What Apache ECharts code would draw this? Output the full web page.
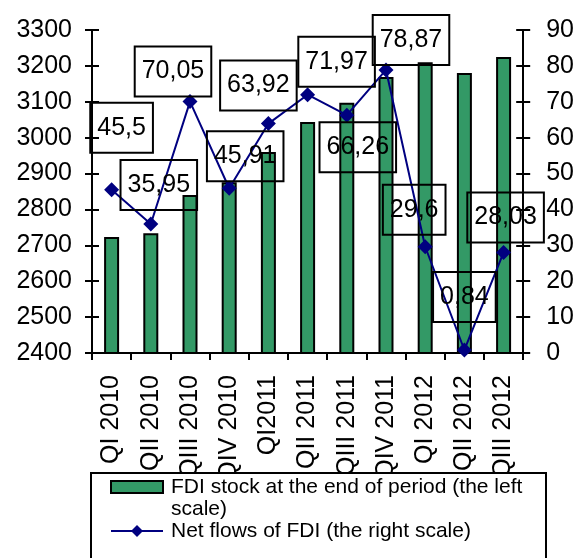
<!DOCTYPE html>
<html>
<head>
<meta charset="utf-8">
<style>
  html, body { margin: 0; padding: 0; background: #fff; }
  #chart { width: 577px; height: 558px; }
</style>
<script src="https://cdn.jsdelivr.net/npm/echarts@6/dist/echarts.min.js"></script>
</head>
<body>
<div id="chart"></div>
<script>
// Quarterly periods
const categories = ['QI 2010', 'QII 2010', 'QIII 2010', 'QIV 2010', 'QI2011', 'QII 2011',
                    'QIII 2011', 'QIV 2011', 'QI 2012', 'QII 2012', 'QIII 2012'];
// FDI stock at the end of period (left scale)
const fdiStock = [2723, 2734, 2840, 2876, 2960, 3044, 3097, 3169, 3210, 3180, 3225];
// Net flows of FDI (right scale)
const netFlows = [45.5, 35.95, 70.05, 45.91, 63.92, 71.97, 66.26, 78.87, 29.6, 0.84, 28.03];
// Axis ranges
const leftAxis = { min: 2400, max: 3300, step: 100 };
const rightAxis = { min: 0, max: 90, step: 10 };

const barName = 'FDI stock at the end of period (the left\nscale)';
const lineName = 'Net flows of FDI (the right scale)';

// Pixel offsets of the value boxes relative to each point
const labelOffsets = [[10, -62], [8, -39], [-17, -30], [16, -32], [-10, -38], [29, -33],
                      [11, 32], [25, -30], [-11, -37], [0, -53], [2, -35]];

const FONT = 'Liberation Sans, Arial, sans-serif';
const tickStyle = { color: '#000', width: 2 };

const chart = echarts.init(document.getElementById('chart'), null, { renderer: 'canvas' });

const lineData = netFlows.map((v, i) => ({
  value: v,
  label: { offset: labelOffsets[i] }
}));

// Value axis; the "inner" copies only add the inward half of the crossing ticks
function valueAxis(range, position, inner) {
  return {
    type: 'value',
    position: position,
    min: range.min,
    max: range.max,
    interval: range.step,
    axisLine: { show: !inner, lineStyle: { color: '#000', width: 2 } },
    axisTick: { show: true, inside: inner, length: 7, lineStyle: tickStyle },
    axisLabel: inner ? { show: false } : {
      margin: position === 'left' ? 20 : 23,
      fontSize: 25, color: '#000', fontFamily: FONT,
      formatter: v => String(v)
    },
    splitLine: { show: false }
  };
}

function categoryAxis(inner) {
  return {
    type: 'category',
    data: categories,
    boundaryGap: true,
    axisLine: { show: !inner, lineStyle: { color: '#000', width: 2 } },
    axisTick: { show: true, inside: inner, length: 7, lineStyle: tickStyle },
    axisLabel: inner ? { show: false } :
      { rotate: 90, margin: 22, fontSize: 25, color: '#000', fontFamily: FONT, interval: 0 },
    splitLine: { show: false }
  };
}

chart.setOption({
  animation: false,
  backgroundColor: '#ffffff',
  textStyle: { fontFamily: FONT },
  grid: { left: 92, right: 46, top: 30, bottom: 205, containLabel: false },
  graphic: [{
    type: 'rect',
    z: 50,
    shape: { x: 91, y: 473, width: 455, height: 120 },
    style: { fill: '#ffffff', stroke: '#000000', lineWidth: 2 }
  }],
  legend: [{
    data: [barName],
    orient: 'vertical',
    left: 110,
    top: 454,
    padding: 0,
    z: 60,
    itemWidth: 52,
    itemHeight: 12,
    icon: 'rect',
    formatter: name => '\n' + name,
    textStyle: { fontFamily: FONT, fontSize: 21, lineHeight: 22, color: '#000', padding: [0, 0, 0, 3] }
  }, {
    data: [lineName],
    orient: 'vertical',
    left: 110,
    top: 520,
    padding: 0,
    z: 60,
    itemWidth: 52,
    itemHeight: 15,
    textStyle: { fontFamily: FONT, fontSize: 21, lineHeight: 22, color: '#000', padding: [0, 0, 0, 3] }
  }],
  xAxis: [categoryAxis(false), categoryAxis(true)],
  yAxis: [
    valueAxis(leftAxis, 'left', false),
    valueAxis(rightAxis, 'right', false),
    valueAxis(leftAxis, 'left', true),
    valueAxis(rightAxis, 'right', true)
  ],
  series: [{
    name: barName,
    type: 'bar',
    xAxisIndex: 0,
    yAxisIndex: 0,
    data: fdiStock,
    barWidth: 15,
    itemStyle: { color: '#339966', borderColor: '#000', borderWidth: 2 }
  }, {
    name: lineName,
    type: 'line',
    xAxisIndex: 0,
    yAxisIndex: 1,
    data: lineData,
    symbol: 'diamond',
    symbolSize: 15,
    itemStyle: { color: '#000080' },
    lineStyle: { color: '#000080', width: 2 },
    label: {
      show: true,
      position: 'inside',
      fontFamily: FONT,
      fontSize: 25,
      lineHeight: 26,
      color: '#000',
      borderColor: '#000',
      borderWidth: 2,
      padding: [12, 7],
      formatter: p => String(p.value).replace('.', ',')
    },
    z: 3
  }]
});
</script>
</body>
</html>
